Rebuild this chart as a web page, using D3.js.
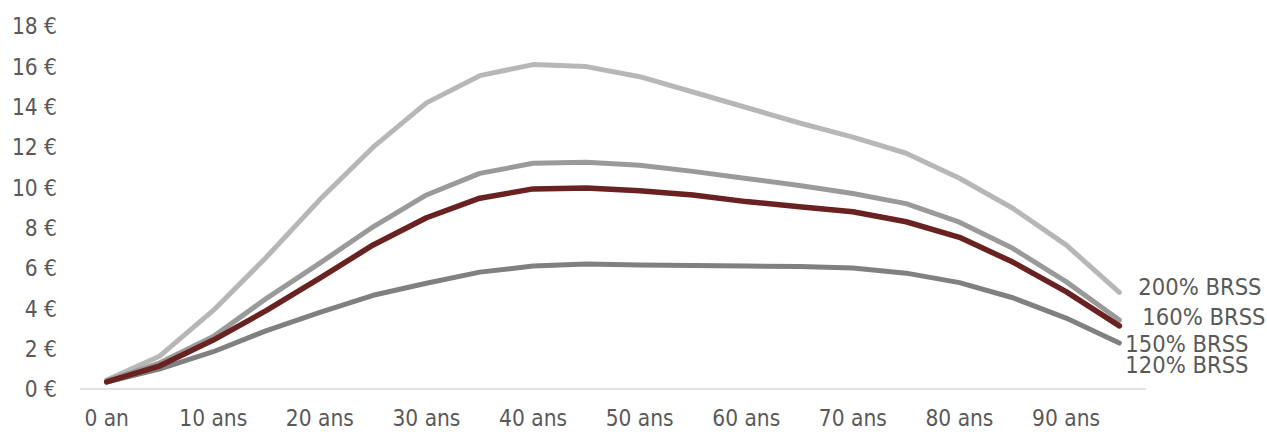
<!DOCTYPE html>
<html>
<head>
<meta charset="utf-8">
<script src="https://cdn.jsdelivr.net/npm/d3@7"></script>
<style>
  html, body { margin: 0; padding: 0; background: #ffffff; }
  svg text { font-family: "DejaVu Sans Condensed", "DejaVu Sans", sans-serif; font-stretch: condensed; fill: #595959; }
</style>
</head>
<body>
<svg id="chart" width="1267" height="432"></svg>
<script>
const ages = [0, 5, 10, 15, 20, 25, 30, 35, 40, 45, 50, 55, 60, 65, 70, 75, 80, 85, 90, 95];
const xTickLabels = ["0 an", "10 ans", "20 ans", "30 ans", "40 ans", "50 ans", "60 ans", "70 ans", "80 ans", "90 ans"];
const yTicks = [0, 2, 4, 6, 8, 10, 12, 14, 16, 18];
const seriesNames = ["120% BRSS", "200% BRSS", "160% BRSS", "150% BRSS"];
const s120 = [0.35, 1.0, 1.85, 2.9, 3.8, 4.65, 5.25, 5.8, 6.1, 6.2, 6.15, 6.13, 6.1, 6.08, 6.0, 5.75, 5.28, 4.53, 3.52, 2.28];
const s200 = [0.45, 1.64, 3.9, 6.55, 9.4, 12.0, 14.2, 15.55, 16.1, 16.0, 15.5, 14.74, 13.97, 13.2, 12.5, 11.7, 10.46, 8.97, 7.15, 4.8];
const s160 = [0.4, 1.3, 2.6, 4.5, 6.25, 8.05, 9.63, 10.7, 11.2, 11.25, 11.1, 10.8, 10.45, 10.1, 9.7, 9.2, 8.28, 6.98, 5.33, 3.42];
const s150 = [0.35, 1.15, 2.43, 3.9, 5.5, 7.15, 8.5, 9.47, 9.93, 9.98, 9.84, 9.63, 9.3, 9.05, 8.8, 8.3, 7.53, 6.3, 4.83, 3.13];
const seriesValues = [s120, s200, s160, s150];
const seriesColors = ["#808080", "#b7b7b7", "#9a9a9a", "#6a2122"];

const svg = d3.select("#chart");
const x = d3.scaleBand().domain(ages).range([80, 1146]).padding(0);
const y = d3.scaleLinear().domain([0, 18]).range([389, 26.3]);
const cx = a => x(a) + x.bandwidth() / 2;

// x axis line
svg.append("line").attr("x1", 80).attr("x2", 1146).attr("y1", y(0)).attr("y2", y(0))
  .attr("stroke", "#d9d9d9").attr("stroke-width", 1.5);

// y tick labels
svg.append("g").selectAll("text").data(yTicks).join("text")
  .attr("x", 57).attr("y", d => y(d)).attr("dy", "0.36em")
  .attr("text-anchor", "end").attr("font-size", 22.5)
  .text(d => d + " €");

// x tick labels (every other category)
const labelAges = ages.filter((a, i) => i % 2 === 0);
svg.append("g").selectAll("text").data(labelAges).join("text")
  .attr("x", d => cx(d)).attr("y", 426)
  .attr("text-anchor", "middle").attr("font-size", 22.5)
  .text((d, i) => xTickLabels[i]);

// lines
const line = d3.line().x((d, i) => cx(ages[i])).y(d => y(d));
svg.append("g").selectAll("path").data(seriesValues).join("path")
  .attr("d", d => line(d))
  .attr("fill", "none")
  .attr("stroke", (d, i) => seriesColors[i])
  .attr("stroke-width", (d, i) => i === 3 ? 5.5 : 5)
  .attr("stroke-linecap", "round")
  .attr("stroke-linejoin", "round");

// series labels at end of lines (baseline offsets)
const labelOffsets = [[6, 30], [19, 3], [23, 5], [6, 26]];
svg.append("g").selectAll("text").data(seriesValues).join("text")
  .attr("x", (d, i) => cx(ages[ages.length - 1]) + labelOffsets[i][0])
  .attr("y", (d, i) => y(d[d.length - 1]) + labelOffsets[i][1])
  .attr("font-size", 23.5)
  .text((d, i) => seriesNames[i]);
</script>
</body>
</html>
